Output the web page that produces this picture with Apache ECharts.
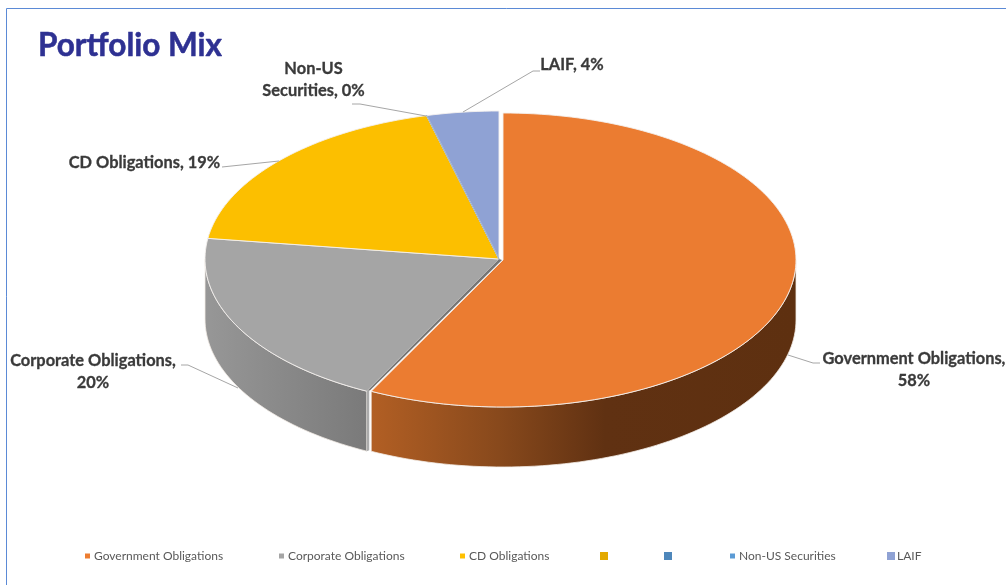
<!DOCTYPE html>
<html>
<head>
<meta charset="utf-8">
<style>html,body{margin:0;padding:0;background:#fff}#chart{width:1006px;height:585px}</style>
<script src="https://cdn.jsdelivr.net/npm/echarts@6/dist/echarts.min.js"></script>
</head>
<body>
<div id="chart"></div>
<script>
// Portfolio allocation, percent
const sliceNames = ['Government Obligations', 'Corporate Obligations', 'CD Obligations', 'Non-US Securities', 'LAIF'];
const sliceValues = [58, 20, 19, 0, 4];
const sliceColors = ['#eb7c31', '#a5a5a5', '#fcbf00', '#9fb2c9', '#8fa2d4'];
const legendNames = ['Government Obligations', 'Corporate Obligations', 'CD Obligations', '', '', 'Non-US Securities', 'LAIF'];
const legendColors = ['#ed7d31', '#a5a5a5', '#ffc000', '#e3a900', '#4e87bb', '#5b9bd5', '#8fa2d4'];

// Disc geometry: tilted ellipse plus wall depth
const disc = { cx: 499, cy: 259, rx: 294, ry: 148, depth: 60 };
const exploded = { cx: 503, cy: 260, rx: 293, ry: 147 };   // first slice is pulled out slightly

// Label placement per slice: text centre, wrapped text, leader line
const labelLayout = [
  { x: 914, y: 370, wrap: true, line: [[788, 355], [813, 363], [820, 363]] },
  { x: 93, y: 372, wrap: true, line: [[238, 388], [188, 365], [181, 365]] },
  { x: 144.5, y: 163, wrap: false, line: [[279, 161], [222, 167]] },
  { x: 313.5, y: 79.5, wrap: 'name', line: [[426, 116], [360, 104], [352, 104]] },
  { x: 572, y: 65, wrap: false, line: [[463, 112], [533, 71], [540, 71]] }
];
const legendMarkers = [
  { x: 85, size: 5 }, { x: 279, size: 5 }, { x: 460, size: 5 }, { x: 600, size: 8 },
  { x: 664, size: 8 }, { x: 730, size: 5 }, { x: 887, size: 8 }
];
const legendTextX = [94, 288, 469, 0, 0, 739, 897];

const FONT = 'Lato, "Open Sans", sans-serif';
const total = sliceValues.reduce((a, b) => a + b, 0);

function ellipsePoint(g, deg, drop) {
  const t = deg * Math.PI / 180;
  return [g.cx + g.rx * Math.sin(t), g.cy - g.ry * Math.cos(t) + (drop || 0)];
}
function arc(g, a0, a1, drop) {
  const pts = [];
  const n = Math.max(2, Math.ceil(Math.abs(a1 - a0) / 1.5));
  for (let i = 0; i <= n; i++) pts.push(ellipsePoint(g, a0 + (a1 - a0) * i / n, drop));
  return pts;
}
const wallFills = [
  { type: 'linear', x: 0, y: 0, x2: 1, y2: 0, colorStops: [
    { offset: 0, color: '#b25f24' }, { offset: 0.3, color: '#88491c' },
    { offset: 0.55, color: '#603112' }, { offset: 1, color: '#5e3010' } ] },
  { type: 'linear', x: 0, y: 0, x2: 1, y2: 0, colorStops: [
    { offset: 0, color: '#979797' }, { offset: 1, color: '#7a7a7a' } ] }
];

function renderPie(params, api) {
  const children = [];
  let angle = 0;
  sliceValues.forEach((v, i) => {
    const start = angle;
    const end = angle + v / total * 360;
    angle = end;
    const g = i === 0 ? exploded : disc;
    const apex = [g.cx, g.cy];

    // Outer wall on the front half of the disc
    const w0 = Math.max(start, 90), w1 = Math.min(end, 270);
    if (w1 > w0) {
      const top = arc(g, w0, w1, 0);
      const bottom = arc(g, w1, w0, disc.depth);
      children.push({
        type: 'polygon', z2: 2,
        shape: { points: top.concat(bottom) },
        style: { fill: wallFills[i] || sliceColors[i], stroke: '#f2ece6', lineWidth: 0.8 }
      });
    }
    // Cut face of the corporate slice, visible in the gap beside the pulled-out slice
    if (i === 1) {
      const edge = ellipsePoint(g, start, 0);
      const edgeLow = ellipsePoint(g, start, disc.depth);
      const other = ellipsePoint(exploded, start, 0);
      children.push({
        type: 'polygon', z2: 4,
        shape: { points: [apex, edge, [other[0] - 1, other[1] - 1], [exploded.cx - 1, exploded.cy]] },
        style: { fill: '#767676' }
      });
      children.push({
        type: 'polygon', z2: 4,
        shape: { points: [edge, edgeLow, [edgeLow[0] + 2.5, edgeLow[1] - 1], [edge[0] + 2.5, edge[1] - 1]] },
        style: { fill: '#ababab' }
      });
    }
    // Top face; a zero-width slice shows as a thin line only
    children.push({
      type: 'polygon', z2: i === 3 ? 5 : 3,
      shape: { points: [apex].concat(arc(g, start, end, 0)) },
      style: {
        fill: sliceColors[i],
        stroke: v === 0 ? sliceColors[i] : '#f4f1ee',
        lineWidth: v === 0 ? 1.2 : 0.9,
        lineJoin: 'round'
      }
    });

    // Data label and leader line
    const lay = labelLayout[i];
    let text = sliceNames[i] + ', ' + v + '%';
    if (lay.wrap === true) text = sliceNames[i] + ',\n' + v + '%';
    if (lay.wrap === 'name') text = 'Non-US\nSecurities, ' + v + '%';
    children.push({
      type: 'polyline', z2: 6,
      shape: { points: lay.line },
      style: { fill: 'none', stroke: '#a6a6a6', lineWidth: 1 }
    });
    children.push({
      type: 'text', z2: 7, x: lay.x, y: lay.y,
      style: {
        text: text, fill: '#3a3a3a', stroke: '#3a3a3a', lineWidth: 0.3,
        font: 'bold 16.4px ' + FONT,
        align: 'center', verticalAlign: 'middle', lineHeight: 22
      }
    });
  });

  // Legend row, drawn with each marker at its own size
  legendNames.forEach((name, i) => {
    const m = legendMarkers[i];
    children.push({
      type: 'rect', z2: 6,
      shape: { x: m.x, y: 556 - m.size / 2, width: m.size, height: m.size },
      style: { fill: legendColors[i] }
    });
    if (name) {
      children.push({
        type: 'text', z2: 7, x: legendTextX[i], y: 556,
        style: { text: name, fill: '#595959', font: '12px ' + FONT, align: 'left', verticalAlign: 'middle' }
      });
    }
  });

  return { type: 'group', children: children };
}

const chart = echarts.init(document.getElementById('chart'), null, { renderer: 'canvas' });
chart.setOption({
  backgroundColor: '#ffffff',
  animation: false,
  title: {
    text: 'Portfolio Mix', left: 33, top: 25,
    textStyle: {
      fontFamily: FONT, fontSize: 31.5, fontWeight: 'bold', color: '#2e3192',
      textBorderColor: '#2e3192', textBorderWidth: 0.5
    }
  },
  graphic: [
    { type: 'line', shape: { x1: 6.5, y1: 8.5, x2: 1006, y2: 8.5 }, style: { stroke: '#5b8ad6', lineWidth: 1 } },
    { type: 'line', shape: { x1: 6.5, y1: 8.5, x2: 6.5, y2: 585 }, style: { stroke: '#5b8ad6', lineWidth: 1 } }
  ],
  series: [{
    type: 'custom',
    coordinateSystem: 'none',
    silent: true,
    data: [0],
    renderItem: renderPie
  }]
});
</script>
</body>
</html>
